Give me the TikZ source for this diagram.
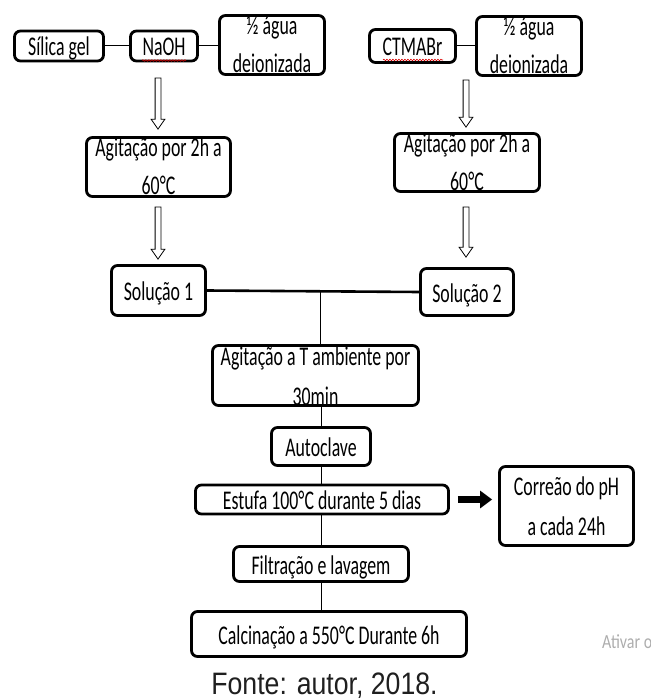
\documentclass[tikz,border=0pt]{standalone}
\usepackage{fontspec}
\usetikzlibrary{shapes.arrows,arrows.meta,calc,decorations.pathmorphing}
\newfontfamily\boxfont{Carlito}[FakeStretch=0.66]
\newfontfamily\fontefont{Liberation Sans}[FakeStretch=0.86]
\newfontfamily\wmfont{Carlito}[FakeStretch=0.8]
\begin{document}
\begin{tikzpicture}[x=1pt,y=-1pt,
  boxbase/.style={draw, line width=2.8pt, rounded corners=6pt, align=center, inner sep=0pt,
    font=\boxfont\fontsize{27}{38}\selectfont},
  boxone/.style={boxbase, text height=20pt, text depth=0pt},
  boxtwo/.style={boxbase, text height=56pt, text depth=0pt},
  link/.style={line width=1pt},
  thicklink/.style={line width=2.6pt},
  hollowarrow/.style={single arrow, draw, line width=0.8pt, fill=white, inner xsep=0pt, inner ysep=2.5pt,
    single arrow head extend=4pt, single arrow tip angle=70, rotate=-90},
  blockarrow/.style={line width=6.5pt, -{Triangle[length=12pt,width=17pt]}},
  squiggle/.style={red!85!black, line width=0.6pt, decorate, decoration={snake, amplitude=0.8pt, segment length=3pt}}
]
\useasboundingbox (0,0) rectangle (650,700);

% top row left
\node[boxone, minimum width=89, minimum height=30] (silica) at (59,46) {Sílica gel};
\node[boxone, minimum width=67, minimum height=30] (naoh) at (164,46) {NaOH};
\node[boxtwo, minimum width=105, minimum height=59] (agua1) at (272,45) {½ água\\deionizada};
% top row right
\node[boxone, minimum width=86, minimum height=33] (ctmabr) at (412.5,46) {CTMABr};
\node[boxtwo, minimum width=105, minimum height=59] (agua2) at (529,46) {½ água\\deionizada};

\draw[link] (silica.east) -- (naoh.west);
\draw[link] (naoh.east) -- (naoh.east -| agua1.west);
\draw[link] (ctmabr.east) -- (ctmabr.east -| agua2.west);

\draw[squiggle] ([shift={(-22,14.5)}]naoh.center) -- ([shift={(22,14.5)}]naoh.center);
\draw[squiggle] ([shift={(-29.5,14)}]ctmabr.center) -- ([shift={(30.5,14)}]ctmabr.center);

% hollow arrows
\node[hollowarrow, minimum height=51] (ar1) at (158,101.5) {};
\node[hollowarrow, minimum height=47] (ar2) at (466,101.5) {};

\node[boxtwo, minimum width=144, minimum height=59] (agit1) at (158.5,167) {Agitação por 2h a\\60°C};
\node[boxtwo, minimum width=145, minimum height=58] (agit2) at (467,162.5) {Agitação por 2h a\\60°C};

\node[hollowarrow, minimum height=52] (ar3) at (158,231) {};
\node[hollowarrow, minimum height=50] (ar4) at (466,230) {};

\node[boxone, minimum width=94, minimum height=50] (sol1) at (158.5,290.5) {Solução 1};
\node[boxone, minimum width=93, minimum height=47] (sol2) at (467,292) {Solução 2};

\draw[thicklink] (sol1.east) -- (sol2.west);
\coordinate (j) at ($(sol1.east)!0.533!(sol2.west)$);

\node[boxtwo, minimum width=206, minimum height=56, text height=60pt] (agit3) at (315.5,375.5) {Agitação a T ambiente por\\[2pt]30min};
\draw[link] (j) -- (j |- agit3.north);

\node[boxone, minimum width=99, minimum height=38] (autoclave) at (321,446.5) {Autoclave};
\node[boxone, minimum width=253, minimum height=29] (estufa) at (322,499.5) {Estufa 100°C durante 5 dias};
\node[boxone, minimum width=175, minimum height=35] (filtracao) at (321,564) {Filtração e lavagem};
\node[boxone, minimum width=275, minimum height=45] (calcinacao) at (329,634) {Calcinação a 550°C Durante 6h};
\node[boxtwo, minimum width=134, minimum height=79, text height=58pt] (correao) at (566.5,506) {Correão do pH\\[2pt]a cada 24h};

\draw[link] (autoclave.north) -- (autoclave.north |- agit3.south);
\draw[link] (autoclave.south) -- (autoclave.south |- estufa.north);
\draw[link] (filtracao.north) -- (filtracao.north |- estufa.south);
\draw[link] (filtracao.south) -- (filtracao.south |- calcinacao.north);

\draw[blockarrow] ([xshift=8pt]estufa.east) -- ([xshift=-6pt]estufa.east -| correao.west);

\node[anchor=base west, inner sep=0pt, text=black!32, font=\wmfont\fontsize{20}{24}\selectfont] (ativar) at (602,648) {Ativar o};
\node[anchor=base, inner sep=0pt, text=black!88, font=\fontefont\fontsize{31}{36}\selectfont] (fonte) at (324.5,694) {Fonte: autor, 2018.};
\end{tikzpicture}
\end{document}
